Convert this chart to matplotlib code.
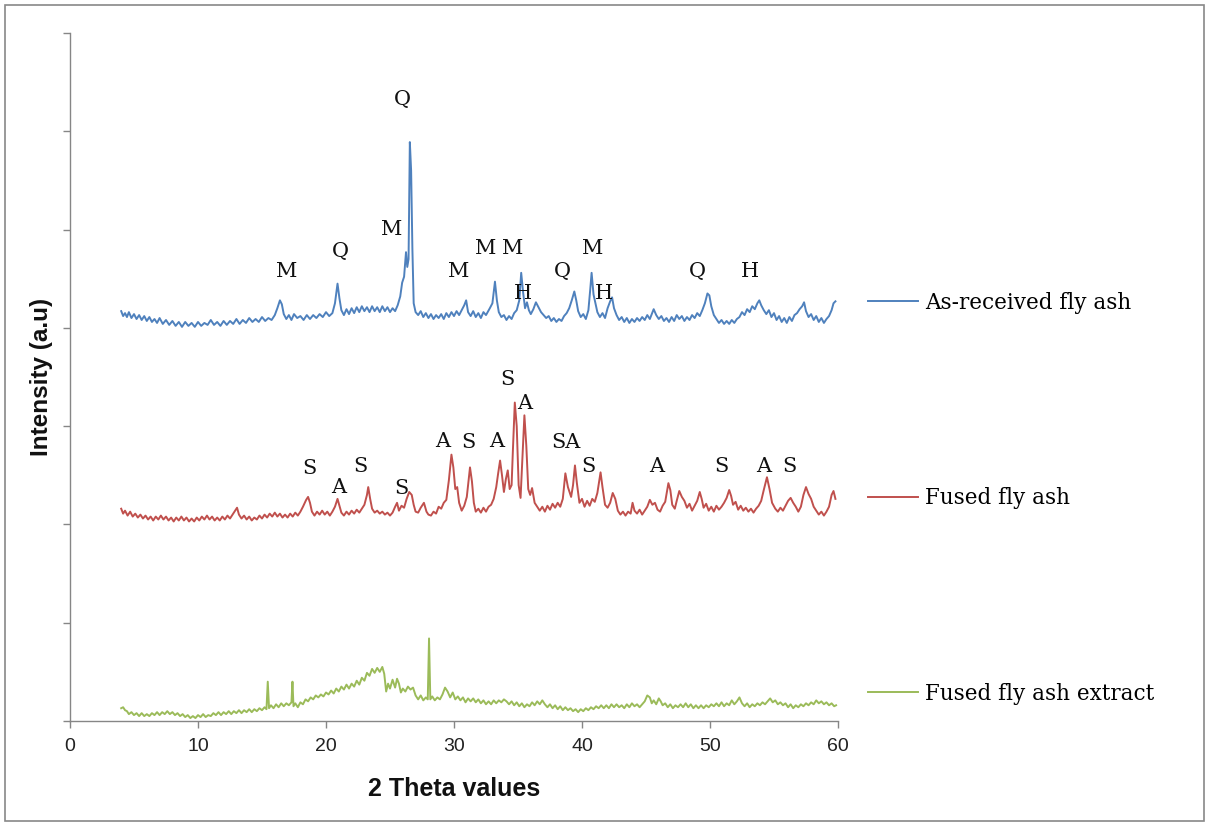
import matplotlib
matplotlib.use('Agg')
import matplotlib.pyplot as plt
from matplotlib.patches import Rectangle

# XRD patterns: (2 theta, intensity a.u.)
blue_pts = [
    (4.0,417),(4.15,412),(4.3,415),(4.45,411),(4.6,416),(4.8,410),(5.0,414),(5.2,409),(5.4,413),(5.6,408),
    (5.8,412),(6.0,407),(6.2,411),(6.4,406),(6.6,409),(6.8,405),(7.0,410),(7.25,404),(7.5,408),(7.75,403),
    (8.0,407),(8.25,402),(8.5,406),(8.75,401),(9.0,406),(9.25,402),(9.5,405),(9.75,401),(10.0,406),(10.25,402),
    (10.5,405),(10.75,403),(11.0,408),(11.25,403),(11.5,406),(11.75,402),(12.0,407),(12.25,403),(12.5,407),(12.75,404),
    (13.0,409),(13.25,404),(13.5,408),(13.75,405),(14.0,410),(14.25,406),(14.5,409),(14.75,406),(15.0,411),(15.25,407),
    (15.5,410),(15.75,408),(16.0,413),(16.2,420),(16.4,428),(16.55,424),(16.7,414),(16.9,409),(17.1,413),(17.3,408),
    (17.5,414),(17.75,410),(18.0,412),(18.25,408),(18.5,413),(18.75,409),(19.0,413),(19.25,410),(19.5,414),(19.75,411),
    (20.0,416),(20.25,412),(20.5,415),(20.7,425),(20.9,445),(21.05,430),(21.2,418),(21.4,413),(21.6,419),(21.8,414),
    (22.0,420),(22.2,415),(22.4,421),(22.6,416),(22.8,422),(23.0,417),(23.2,421),(23.4,416),(23.6,422),(23.8,417),
    (24.0,421),(24.2,416),(24.4,422),(24.6,417),(24.8,421),(25.0,416),(25.2,420),(25.4,417),(25.6,423),(25.8,432),
    (25.95,446),(26.1,452),(26.25,477),(26.35,462),(26.45,470),(26.55,589),(26.65,560),(26.75,480),(26.85,425),(27.0,416),
    (27.2,413),(27.4,417),(27.6,411),(27.8,415),(28.0,410),(28.2,414),(28.4,409),(28.6,413),(28.8,410),(29.0,414),
    (29.2,409),(29.4,415),(29.6,411),(29.8,416),(30.0,412),(30.2,417),(30.4,413),(30.6,418),(30.8,423),(30.95,428),
    (31.1,416),(31.3,412),(31.5,417),(31.7,411),(31.9,415),(32.1,410),(32.3,416),(32.5,413),(32.8,420),(33.0,425),
    (33.2,447),(33.35,428),(33.5,416),(33.7,411),(33.9,413),(34.1,408),(34.3,412),(34.5,409),(34.7,415),(34.9,418),
    (35.1,428),(35.25,456),(35.4,436),(35.55,420),(35.7,426),(35.85,418),(36.0,414),(36.2,419),(36.4,426),(36.6,421),
    (36.8,416),(37.0,413),(37.2,410),(37.4,412),(37.6,407),(37.8,410),(38.0,406),(38.2,409),(38.4,407),(38.6,412),
    (38.8,415),(39.0,420),(39.2,428),(39.4,437),(39.55,428),(39.7,417),(39.9,411),(40.1,414),(40.3,409),(40.5,418),
    (40.65,440),(40.75,456),(40.9,434),(41.05,425),(41.2,416),(41.4,411),(41.6,415),(41.8,410),(42.0,420),(42.2,427),
    (42.35,431),(42.5,420),(42.7,413),(42.9,408),(43.1,411),(43.3,406),(43.5,410),(43.7,405),(43.9,409),(44.1,406),
    (44.3,410),(44.5,407),(44.7,411),(44.9,408),(45.1,413),(45.3,409),(45.6,419),(45.8,413),(46.0,409),(46.2,412),
    (46.4,407),(46.6,410),(46.8,406),(47.0,411),(47.2,407),(47.4,413),(47.6,409),(47.8,412),(48.0,407),(48.2,411),
    (48.4,408),(48.6,413),(48.8,410),(49.0,415),(49.2,412),(49.4,418),(49.6,425),(49.8,435),(49.95,433),(50.1,422),
    (50.3,413),(50.5,409),(50.7,405),(50.9,408),(51.1,404),(51.3,407),(51.5,404),(51.7,408),(51.9,405),(52.1,409),
    (52.3,411),(52.5,416),(52.7,413),(52.9,419),(53.1,416),(53.3,422),(53.5,419),(53.7,425),(53.85,428),(54.0,423),
    (54.2,418),(54.4,414),(54.6,418),(54.8,411),(55.0,415),(55.2,408),(55.4,412),(55.6,406),(55.8,410),(56.0,405),
    (56.2,411),(56.4,407),(56.6,413),(56.8,415),(57.0,419),(57.2,422),(57.35,426),(57.5,417),(57.7,411),(57.9,414),
    (58.1,408),(58.3,412),(58.5,406),(58.7,410),(58.9,405),(59.1,409),(59.3,412),(59.5,418),(59.65,425),(59.8,427),
]

red_pts = [
    (4.0,216),(4.15,211),(4.3,214),(4.5,209),(4.7,213),(4.9,208),(5.1,211),(5.3,207),(5.5,210),(5.7,206),
    (5.9,209),(6.1,205),(6.3,208),(6.5,204),(6.7,208),(6.9,205),(7.1,209),(7.3,205),(7.5,208),(7.7,204),
    (7.9,207),(8.1,203),(8.3,207),(8.5,204),(8.7,208),(8.9,204),(9.1,207),(9.3,203),(9.5,206),(9.7,203),
    (9.9,207),(10.1,204),(10.3,208),(10.5,205),(10.7,209),(10.9,205),(11.1,208),(11.3,204),(11.5,207),(11.7,204),
    (11.9,208),(12.1,205),(12.3,209),(12.5,206),(12.7,210),(12.9,214),(13.05,217),(13.2,210),(13.4,206),(13.6,209),
    (13.8,205),(14.0,208),(14.2,204),(14.4,207),(14.6,205),(14.8,209),(15.0,206),(15.2,210),(15.4,207),(15.6,211),
    (15.8,208),(16.0,212),(16.2,208),(16.4,211),(16.6,207),(16.8,210),(17.0,207),(17.2,211),(17.4,208),(17.6,212),
    (17.8,209),(18.0,213),(18.2,218),(18.45,225),(18.6,228),(18.75,222),(18.9,213),(19.1,209),(19.3,213),(19.5,210),
    (19.7,214),(19.9,210),(20.1,213),(20.3,209),(20.5,213),(20.7,218),(20.9,226),(21.05,219),(21.2,212),(21.4,209),
    (21.6,213),(21.8,210),(22.0,214),(22.2,211),(22.4,215),(22.6,212),(22.8,216),(23.0,220),(23.2,230),(23.3,238),
    (23.45,226),(23.6,216),(23.8,212),(24.0,214),(24.2,211),(24.4,213),(24.6,210),(24.8,212),(25.0,209),(25.2,212),
    (25.4,218),(25.55,222),(25.7,214),(25.9,219),(26.1,217),(26.3,226),(26.5,233),(26.7,230),(26.85,220),(27.0,213),
    (27.2,212),(27.4,217),(27.65,222),(27.85,213),(28.0,210),(28.2,209),(28.4,213),(28.6,211),(28.8,218),(29.0,216),
    (29.2,222),(29.4,225),(29.6,245),(29.8,271),(29.95,258),(30.1,236),(30.25,238),(30.4,222),(30.6,214),(30.8,219),
    (31.0,228),(31.25,258),(31.4,244),(31.55,222),(31.7,213),(31.9,216),(32.1,212),(32.3,217),(32.5,213),(32.7,218),
    (32.9,220),(33.1,226),(33.3,238),(33.45,252),(33.6,265),(33.75,250),(33.9,233),(34.05,246),(34.2,255),(34.35,236),
    (34.5,240),(34.6,275),(34.75,324),(34.9,300),(35.05,240),(35.2,227),(35.35,270),(35.5,311),(35.65,280),(35.8,236),
    (35.95,230),(36.1,237),(36.3,222),(36.5,218),(36.7,214),(36.9,218),(37.1,213),(37.3,219),(37.5,215),(37.7,221),
    (37.9,217),(38.1,222),(38.3,218),(38.5,226),(38.7,252),(38.9,238),(39.15,228),(39.3,240),(39.45,260),(39.6,242),
    (39.8,222),(40.0,226),(40.2,218),(40.4,224),(40.6,219),(40.8,226),(41.0,223),(41.2,232),(41.45,253),(41.6,238),
    (41.8,220),(42.0,217),(42.2,222),(42.4,232),(42.6,226),(42.8,214),(43.0,210),(43.2,213),(43.4,209),(43.6,213),
    (43.8,211),(43.95,222),(44.1,214),(44.3,211),(44.5,215),(44.7,210),(44.9,214),(45.1,218),(45.3,225),(45.5,220),
    (45.7,222),(45.9,215),(46.1,213),(46.3,219),(46.5,223),(46.75,242),(46.9,235),(47.05,220),(47.25,216),(47.4,224),
    (47.6,234),(47.8,228),(48.0,224),(48.2,217),(48.4,221),(48.6,214),(48.8,219),(49.0,224),(49.2,233),(49.35,226),
    (49.5,217),(49.7,221),(49.9,214),(50.1,218),(50.3,213),(50.5,219),(50.7,215),(50.9,218),(51.1,222),(51.3,227),
    (51.5,235),(51.65,229),(51.8,220),(52.0,223),(52.2,215),(52.4,219),(52.6,214),(52.8,217),(53.0,213),(53.2,216),
    (53.4,212),(53.6,216),(53.8,219),(54.0,224),(54.2,235),(54.45,248),(54.65,236),(54.85,222),(55.1,216),(55.3,213),
    (55.5,217),(55.7,214),(55.9,219),(56.1,224),(56.3,227),(56.5,222),(56.7,218),(56.9,213),(57.1,218),(57.3,230),
    (57.5,238),(57.7,231),(57.9,226),(58.1,218),(58.3,214),(58.5,210),(58.7,213),(58.9,209),(59.1,213),(59.3,218),
    (59.5,230),(59.65,234),(59.8,226),
]

green_pts = [
    (4.0,13),(4.15,14),(4.3,11),(4.45,10),(4.6,7),(4.8,9),(5.0,6),(5.2,8),(5.4,5),(5.6,8),
    (5.8,5),(6.0,7),(6.2,5),(6.4,8),(6.6,6),(6.8,9),(7.0,6),(7.2,9),(7.4,7),(7.6,10),
    (7.8,7),(8.0,9),(8.2,6),(8.4,8),(8.6,5),(8.8,7),(9.0,4),(9.2,6),(9.4,3),(9.6,5),
    (9.8,3),(10.0,6),(10.2,4),(10.4,7),(10.6,4),(10.8,6),(11.0,5),(11.2,8),(11.4,6),(11.6,9),
    (11.8,6),(12.0,9),(12.2,7),(12.4,10),(12.6,7),(12.8,10),(13.0,8),(13.2,11),(13.4,8),(13.6,11),
    (13.8,9),(14.0,12),(14.2,9),(14.4,12),(14.6,10),(14.8,13),(15.0,11),(15.2,14),(15.35,12),(15.45,40),
    (15.55,13),(15.7,16),(15.9,13),(16.1,17),(16.3,14),(16.5,18),(16.7,15),(16.9,18),(17.1,16),(17.3,19),
    (17.38,40),(17.46,15),(17.6,18),(17.8,14),(18.0,19),(18.2,17),(18.4,22),(18.6,20),(18.8,24),(19.0,22),
    (19.2,26),(19.4,24),(19.6,27),(19.8,25),(20.0,29),(20.2,27),(20.4,31),(20.6,28),(20.8,33),(21.0,30),
    (21.2,35),(21.4,32),(21.6,37),(21.8,33),(22.0,38),(22.2,35),(22.4,41),(22.6,37),(22.8,44),(23.0,41),
    (23.2,49),(23.4,46),(23.6,53),(23.8,49),(24.0,54),(24.2,50),(24.4,55),(24.55,48),(24.7,30),(24.85,38),
    (25.0,33),(25.2,42),(25.4,34),(25.55,43),(25.7,38),(25.85,29),(26.0,33),(26.2,30),(26.4,35),(26.6,32),
    (26.8,34),(27.0,26),(27.2,22),(27.4,26),(27.6,21),(27.8,24),(27.95,22),(28.05,84),(28.15,22),(28.3,25),
    (28.5,21),(28.7,24),(28.9,22),(29.1,27),(29.3,34),(29.5,30),(29.7,24),(29.9,29),(30.1,22),(30.3,25),
    (30.5,21),(30.7,24),(30.9,19),(31.1,23),(31.3,20),(31.5,23),(31.7,19),(31.9,22),(32.1,18),(32.3,21),
    (32.5,17),(32.7,20),(32.9,17),(33.1,21),(33.3,18),(33.5,21),(33.7,19),(33.9,22),(34.1,20),(34.3,17),
    (34.5,20),(34.7,16),(34.9,19),(35.1,15),(35.3,18),(35.5,14),(35.7,17),(35.9,15),(36.1,19),(36.3,16),
    (36.5,20),(36.7,17),(36.9,21),(37.1,17),(37.3,14),(37.5,17),(37.7,13),(37.9,16),(38.1,12),(38.3,15),
    (38.5,11),(38.7,14),(38.9,11),(39.1,13),(39.3,10),(39.5,12),(39.7,9),(39.9,12),(40.1,10),(40.3,13),
    (40.5,11),(40.7,14),(40.9,12),(41.1,15),(41.3,13),(41.5,16),(41.7,13),(41.9,16),(42.1,13),(42.3,17),
    (42.5,14),(42.7,17),(42.9,14),(43.1,16),(43.3,13),(43.5,17),(43.7,14),(43.9,18),(44.1,15),(44.3,17),
    (44.5,14),(44.7,17),(44.9,20),(45.1,26),(45.3,24),(45.45,18),(45.6,21),(45.8,17),(46.0,23),(46.15,20),
    (46.3,16),(46.5,18),(46.7,14),(46.9,17),(47.1,13),(47.3,16),(47.5,14),(47.7,17),(47.9,14),(48.1,18),
    (48.3,14),(48.5,17),(48.7,13),(48.9,16),(49.1,13),(49.3,16),(49.5,13),(49.7,16),(49.9,14),(50.1,17),
    (50.3,15),(50.5,18),(50.7,15),(50.9,19),(51.1,15),(51.3,18),(51.5,16),(51.7,21),(51.9,17),(52.1,20),
    (52.3,24),(52.5,18),(52.7,15),(52.9,18),(53.1,14),(53.3,17),(53.5,15),(53.7,18),(53.9,16),(54.1,19),
    (54.3,17),(54.5,20),(54.7,23),(54.9,19),(55.1,21),(55.3,17),(55.5,19),(55.7,16),(55.9,18),(56.1,14),
    (56.3,17),(56.5,13),(56.7,16),(56.9,14),(57.1,17),(57.3,15),(57.5,18),(57.7,16),(57.9,19),(58.1,17),
    (58.3,21),(58.5,18),(58.7,20),(58.9,17),(59.1,19),(59.3,16),(59.5,18),(59.7,15),(59.85,16),
]

series_names = ['As-received fly ash', 'Fused fly ash', 'Fused fly ash extract']
series_colors = ['#4F81BD', '#C0504D', '#9BBB59']

# phase labels: (letter, 2 theta, intensity)
blue_labels = [('M', 16.95, 457), ('Q', 21.1, 478), ('M', 25.15, 500), ('Q', 26.0, 632),
               ('M', 30.4, 457), ('M', 32.5, 481), ('M', 34.6, 481), ('H', 35.4, 435),
               ('Q', 38.5, 457), ('M', 40.8, 481), ('H', 41.7, 435), ('Q', 49.0, 457),
               ('H', 53.1, 457)]
red_labels = [('S', 18.7, 257), ('A', 21.0, 238), ('S', 22.7, 259), ('S', 25.9, 237),
              ('A', 29.1, 284), ('S', 31.1, 283), ('A', 33.3, 284), ('S', 34.2, 347),
              ('A', 35.5, 323), ('SA', 38.75, 283), ('S', 40.5, 259), ('A', 45.8, 259),
              ('S', 50.9, 259), ('A', 54.2, 259), ('S', 56.2, 259)]

sans = 'Liberation Sans'
serif = 'DejaVu Serif'

fig = plt.figure(figsize=(12.09, 8.25), dpi=100)
ax = fig.add_axes([70/1209, 104/825, 768/1209, 688/825])

lines = []
for pts, name, col in zip([blue_pts, red_pts, green_pts], series_names, series_colors):
    xs, ys = zip(*pts)
    ln, = ax.plot(xs, ys, color=col, lw=1.4, label=name)
    lines.append(ln)

for letter, x, y in blue_labels + red_labels:
    ax.text(x, y, letter, ha='center', va='center', fontsize=15, family=serif, color='#111111')

ax.set_xlim(0, 60)
ax.set_ylim(0, 700)
ax.set_xticks(range(0, 61, 10))
ax.set_yticks(range(0, 701, 100))
ax.set_yticklabels([])
for s in ['top', 'right']:
    ax.spines[s].set_visible(False)
for s in ['left', 'bottom']:
    ax.spines[s].set_color('#868686')
    ax.spines[s].set_linewidth(1.0)
ax.tick_params(axis='both', direction='out', length=5, width=1.0, color='#868686')
ax.tick_params(axis='x', labelsize=14, pad=7, labelcolor='#222222')
for lab in ax.get_xticklabels():
    lab.set_family(sans)

ax.set_xlabel('2 Theta values', fontsize=18, fontweight='bold', family=sans, labelpad=16, color='#111111')
ax.set_ylabel('Intensity (a.u)', fontsize=17.5, fontweight='bold', family=sans, labelpad=4, color='#111111')

fig.legend(handles=lines, loc='upper left', bbox_to_anchor=(868/1209, 1 - 292/825),
           frameon=False, prop={'family': serif, 'size': 15.5},
           handlelength=2.33, handletextpad=0.33, labelspacing=8.05, borderpad=0, borderaxespad=0)

fig.add_artist(Rectangle((5/1209, 4/825), 1199/1209, 816/825, transform=fig.transFigure,
                         fill=False, edgecolor='#888888', lw=1.2))

fig.savefig('out.png', dpi=100)
